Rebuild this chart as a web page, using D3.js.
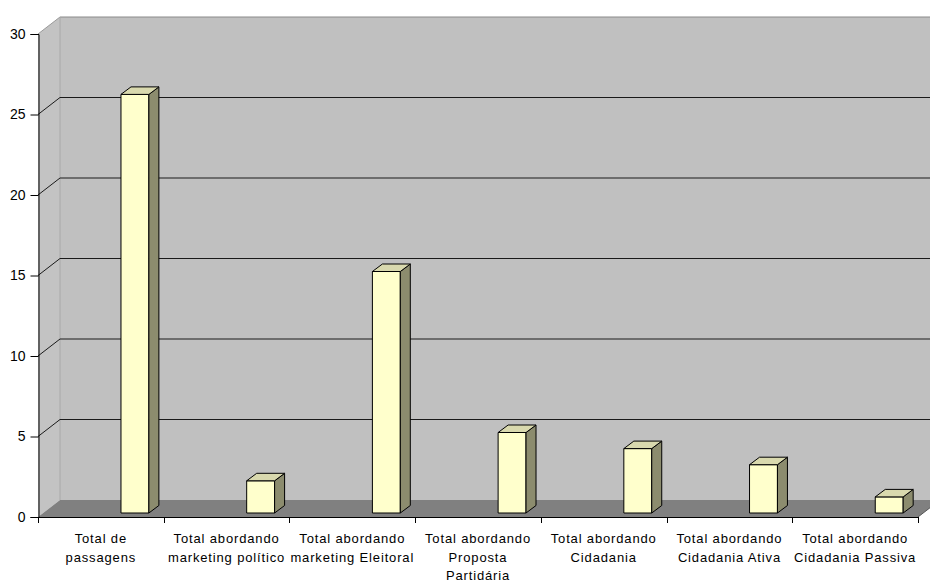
<!DOCTYPE html>
<html>
<head>
<meta charset="utf-8">
<script src="https://cdn.jsdelivr.net/npm/d3@7"></script>
<style>
  html, body { margin: 0; padding: 0; background: #fff; }
  svg { display: block; }
  text { font-family: "Liberation Sans", Arial, sans-serif; fill: #000; }
</style>
</head>
<body>
<svg id="chart" width="930" height="584"></svg>
<script>
const categories = [
  ["Total de", "passagens"],
  ["Total abordando", "marketing político"],
  ["Total abordando", "marketing Eleitoral"],
  ["Total abordando", "Proposta", "Partidária"],
  ["Total abordando", "Cidadania"],
  ["Total abordando", "Cidadania Ativa"],
  ["Total abordando", "Cidadania Passiva"]
];
const values = [26, 2, 15, 5, 4, 3, 1];
const yTicks = [0, 5, 10, 15, 20, 25, 30];

const svg = d3.select("#chart");
const W = 930;
const DX = 22, DY = -17;      // wall depth
const BDX = 10, BDY = -7.5;   // bar depth
const BOFF = -4;              // bar base offset from front

const keys = categories.map((c, i) => i);
const x = d3.scaleBand().domain(keys).range([38, 918]).paddingInner(0).paddingOuter(0);
const y = d3.scaleLinear().domain([0, 30]).range([517, 34]);

const x0 = x.range()[0], x1 = x.range()[1];
const yTop = y(30), yBot = y(0);

// back wall
svg.append("polygon")
  .attr("points", [[x0 + DX, yTop + DY], [W + 10, yTop + DY], [W + 10, yBot + DY], [x0 + DX, yBot + DY]].join(" "))
  .attr("fill", "#c0c0c0");
// side wall
svg.append("polygon")
  .attr("points", [[x0, yTop], [x0 + DX, yTop + DY], [x0 + DX, yBot + DY], [x0, yBot]].join(" "))
  .attr("fill", "#c3c3c3");
// floor
svg.append("polygon")
  .attr("points", [[x0, yBot], [x0 + DX, yBot + DY], [x1 + DX, yBot + DY], [x1, yBot]].join(" "))
  .attr("fill", "#808080");

// wall edges
svg.append("line").attr("x1", x0 + DX).attr("x2", W + 10).attr("y1", yTop + DY).attr("y2", yTop + DY)
  .attr("stroke", "#8a8a8a").attr("stroke-width", 1);
svg.append("line").attr("x1", x0).attr("x2", x0 + DX).attr("y1", yTop).attr("y2", yTop + DY)
  .attr("stroke", "#9a9a9a").attr("stroke-width", 1);
svg.append("line").attr("x1", x0 + DX).attr("x2", x0 + DX).attr("y1", yTop + DY).attr("y2", yBot + DY)
  .attr("stroke", "#a8a8a8").attr("stroke-width", 1);

// gridlines
const grid = yTicks.filter(t => t > 0 && t < 30);
grid.forEach(t => {
  svg.append("line").attr("x1", x0 + DX).attr("x2", W + 10)
    .attr("y1", y(t) + DY).attr("y2", y(t) + DY)
    .attr("stroke", "#1a1a1a").attr("stroke-width", 1);
  svg.append("line").attr("x1", x0).attr("x2", x0 + DX)
    .attr("y1", y(t)).attr("y2", y(t) + DY)
    .attr("stroke", "#1a1a1a").attr("stroke-width", 1);
});

// bars
const bw = x.bandwidth() * 0.222;
const boff = x.bandwidth() * 0.66;
values.forEach((v, i) => {
  const xl = x(i) + boff, xr = xl + bw;
  const yb = y(0) + BOFF, yt = y(v) + BOFF;
  const g = svg.append("g").attr("stroke", "#000").attr("stroke-width", 1).attr("stroke-linejoin", "round");
  g.append("polygon").attr("points", [[xl, yt], [xr, yt], [xr, yb], [xl, yb]].join(" ")).attr("fill", "#ffffcc");
  g.append("polygon").attr("points", [[xr, yt], [xr + BDX, yt + BDY], [xr + BDX, yb + BDY], [xr, yb]].join(" ")).attr("fill", "#8c8c6e");
  g.append("polygon").attr("points", [[xl, yt], [xl + BDX, yt + BDY], [xr + BDX, yt + BDY], [xr, yt]].join(" ")).attr("fill", "#d9d9ae");
});

// axes
const yAxis = d3.axisLeft(y).tickValues(yTicks).tickSize(8).tickPadding(5).tickFormat(d3.format("d"));
const gy = svg.append("g").attr("transform", `translate(${x0 + 0.5},0)`).call(yAxis);
gy.select(".domain").attr("stroke", "#000");
gy.selectAll(".tick line").attr("stroke", "#000");
gy.selectAll(".tick text").attr("font-size", 14).attr("font-family", "'Liberation Sans', Arial, sans-serif").attr("fill", "#000");

// x axis baseline
svg.append("line").attr("x1", x0).attr("x2", x1).attr("y1", yBot + 0.5).attr("y2", yBot + 0.5).attr("stroke", "#000");
svg.append("line").attr("x1", x1).attr("x2", x1 + DX).attr("y1", yBot).attr("y2", yBot + DY).attr("stroke", "#555");
// category ticks
const bounds = keys.map(k => x(k)).concat([x1]);
svg.selectAll(".xtick").data(bounds).enter().append("line")
  .attr("x1", d => Math.round(d) + 0.5).attr("x2", d => Math.round(d) + 0.5)
  .attr("y1", yBot).attr("y2", yBot + 6).attr("stroke", "#000");

// category labels
categories.forEach((lines, i) => {
  const t = svg.append("text")
    .attr("x", x(i) + x.bandwidth() / 2)
    .attr("y", 543)
    .attr("text-anchor", "middle")
    .attr("font-size", 13)
    .attr("letter-spacing", "0.85px");
  lines.forEach((ln, j) => {
    t.append("tspan").attr("x", x(i) + x.bandwidth() / 2).attr("y", 543 + j * 18.5).text(ln);
  });
});
</script>
</body>
</html>
